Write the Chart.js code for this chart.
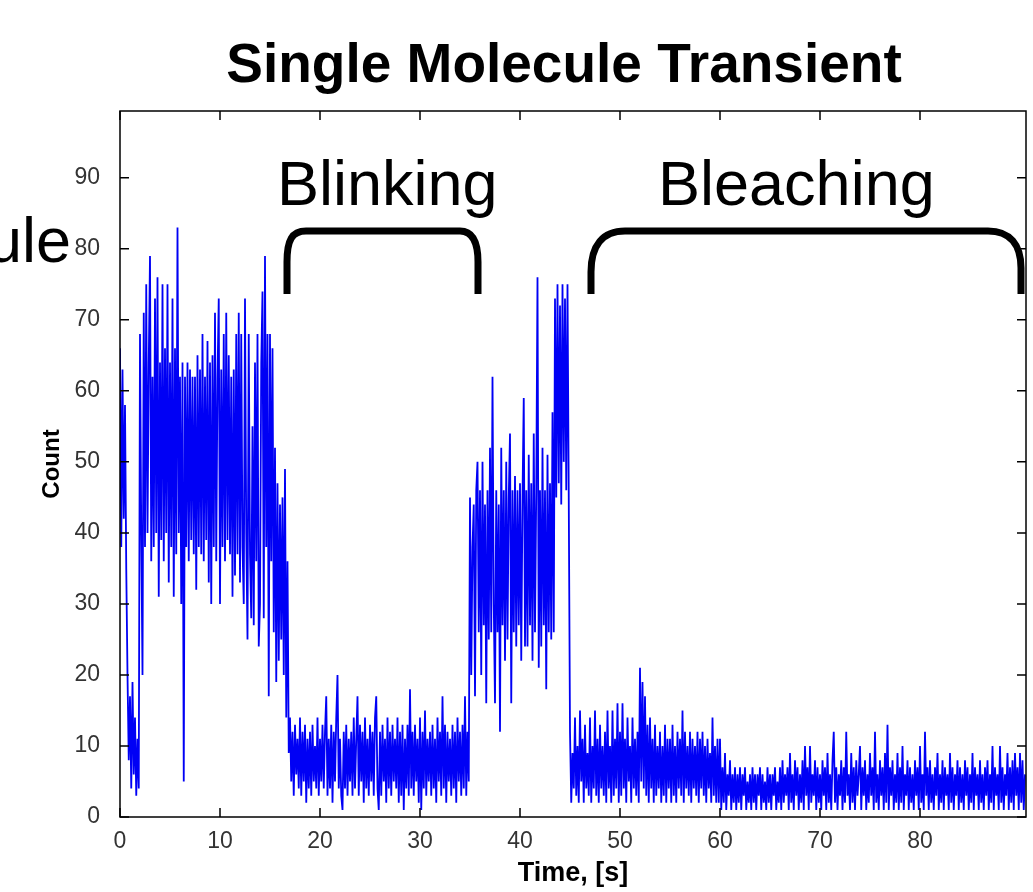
<!DOCTYPE html>
<html>
<head>
<meta charset="utf-8">
<script src="https://cdn.jsdelivr.net/npm/chart.js@4"></script>
<style>
  html, body { margin: 0; padding: 0; background: #fff; }
  #wrap { width: 1033px; height: 892px; position: relative; }
</style>
</head>
<body>
<div id="wrap"><canvas id="transientChart"></canvas></div>
<script>
// one sample every 0.125 s
const SAMPLE_STEP = 0.125;

// t = 0 .. 1.875
const startBurst = [66, 38, 63, 42, 58, 35, 20, 8, 17, 4, 19, 6, 14, 3, 11, 4];

// t = 2 .. 16.875  (bright state, then decay)
const brightState = [
  68, 40, 20, 71, 38, 75, 40, 64, 79, 36, 62, 38, 73, 40, 76, 31,
  64, 39, 75, 36, 66, 40, 75, 33, 64, 38, 73, 31, 66, 37, 83, 40,
  62, 30, 64, 5, 62, 38, 64, 36, 63, 39, 62, 37, 62, 32, 65, 38,
  63, 37, 68, 36, 62, 39, 67, 33, 64, 30, 65, 38, 71, 36, 62, 73,
  30, 63, 38, 68, 36, 71, 39, 65, 37, 62, 31, 63, 34, 68, 37, 71,
  33, 68, 38, 30, 73, 40, 25, 68, 37, 28, 55, 27, 64, 36, 68, 24,
  30, 64, 74, 28, 79, 38, 68, 17, 68, 36, 66, 26, 52, 19, 47, 22,
  44, 25, 45, 20, 49, 14, 36, 9
];

// t = 17 .. 34.875  (blinking, dark)
const blinkOff = [
  14, 5, 12, 3, 13, 6, 11, 4, 14, 3, 12, 5, 13, 2, 11, 4,
  12, 3, 13, 5, 10, 4, 14, 3, 11, 5, 13, 4, 12, 17, 3, 11,
  4, 13, 2, 12, 5, 14, 20, 4, 11, 3, 1, 12, 4, 13, 3, 11,
  5, 12, 3, 14, 4, 11, 17, 3, 13, 5, 12, 2, 14, 4, 11, 3,
  13, 5, 12, 3, 14, 17, 4, 1, 12, 3, 13, 5, 11, 2, 14, 4,
  12, 3, 13, 5, 11, 4, 14, 2, 12, 3, 13, 1, 11, 4, 13, 3,
  18, 4, 12, 3, 13, 5, 11, 2, 14, 1, 12, 4, 15, 3, 11, 5,
  12, 3, 13, 4, 11, 2, 14, 5, 12, 3, 17, 4, 13, 2, 12, 5,
  11, 3, 13, 4, 12, 2, 14, 5, 12, 3, 13, 4, 17, 3, 12, 5
];

// t = 35 .. 43.375  (back on)
const blinkOn = [
  45, 20, 38, 44, 17, 46, 50, 26, 46, 20, 50, 27, 44, 16, 46, 25,
  52, 26, 62, 30, 16, 46, 26, 44, 12, 52, 27, 46, 22, 50, 25, 45,
  54, 16, 46, 26, 48, 24, 46, 27, 47, 22, 45, 59, 24, 46, 24, 51,
  27, 47, 22, 54, 26, 46, 76, 21, 46, 24, 52, 27, 46, 18, 51, 26,
  47, 25, 57, 26
];

// t = 43.5 .. 44.875
const lastBurst = [73, 45, 75, 47, 72, 44, 75, 50, 73, 46, 75, 45];

// t = 45 .. 59.875  (bleached)
const bleachEarly = [
  12, 2, 9, 4, 14, 3, 10, 2, 15, 5, 11, 2, 13, 4, 9, 3,
  14, 2, 10, 4, 15, 3, 11, 2, 13, 4, 10, 3, 12, 2, 15, 4,
  10, 2, 15, 3, 11, 4, 16, 2, 12, 3, 16, 4, 11, 2, 14, 5,
  10, 2, 14, 4, 11, 3, 12, 2, 21, 5, 19, 4, 17, 3, 13, 2,
  14, 4, 11, 2, 13, 3, 10, 4, 12, 2, 10, 3, 13, 2, 11, 4,
  11, 2, 13, 3, 10, 2, 12, 4, 11, 3, 15, 2, 12, 4, 10, 3,
  12, 2, 11, 4, 10, 3, 12, 2, 11, 4, 12, 3, 10, 2, 11, 4,
  9, 2, 14, 3, 10, 2, 11, 2
];

// t = 60 .. 90.5  (background)
const bleachLate = [
  11, 1, 7, 2, 9, 1, 6, 3, 8, 1, 6, 2, 7, 1, 6, 2,
  7, 1, 6, 3, 7, 1, 5, 2, 6, 1, 7, 2, 6, 1, 6, 3,
  7, 1, 6, 2, 5, 1, 7, 2, 6, 1, 6, 3, 7, 1, 5, 2,
  7, 1, 8, 2, 6, 3, 7, 1, 9, 2, 6, 1, 8, 3, 7, 1,
  6, 2, 8, 1, 10, 3, 7, 1, 10, 2, 6, 3, 8, 1, 7, 2,
  6, 1, 8, 3, 7, 1, 9, 2, 6, 1, 8, 12, 2, 7, 1, 6,
  3, 8, 1, 7, 2, 12, 3, 6, 1, 9, 2, 7, 1, 8, 3, 6,
  10, 1, 7, 3, 8, 1, 6, 2, 9, 3, 7, 1, 12, 2, 6, 1,
  8, 3, 7, 1, 9, 2, 13, 1, 7, 3, 8, 1, 6, 2, 9, 1,
  7, 2, 10, 1, 6, 3, 8, 1, 7, 2, 6, 1, 8, 3, 7, 1,
  10, 2, 6, 1, 12, 3, 7, 1, 8, 2, 6, 1, 7, 3, 9, 1,
  6, 2, 8, 1, 7, 3, 6, 1, 9, 2, 7, 1, 6, 3, 8, 1,
  7, 2, 6, 1, 8, 3, 7, 1, 6, 2, 9, 1, 7, 3, 6, 1,
  8, 2, 6, 1, 7, 3, 8, 1, 6, 2, 10, 1, 7, 3, 6, 1,
  10, 2, 7, 1, 6, 3, 9, 1, 7, 2, 8, 1, 9, 3, 7, 1,
  9, 2, 8, 1, 6
];

const timeTicks = [0, 10, 20, 30, 40, 50, 60, 70, 80];
const countTicks = [0, 10, 20, 30, 40, 50, 60, 70, 80, 90];

const counts = [].concat(startBurst, brightState, blinkOff, blinkOn, lastBurst, bleachEarly, bleachLate);
const points = counts.map((c, i) => ({ x: i * SAMPLE_STEP, y: c }));

const FONT = '"Liberation Sans", Arial, Helvetica, sans-serif';

// box, inward ticks, title and the slide annotations
const overlay = {
  id: 'overlay',
  afterDraw(chart) {
    const { ctx, chartArea: a, scales } = chart;
    ctx.save();
    ctx.strokeStyle = '#000';
    ctx.lineWidth = 1.5;
    ctx.strokeRect(a.left, a.top, a.right - a.left, a.bottom - a.top);

    const tl = 9;
    ctx.beginPath();
    scales.x.ticks.forEach(t => {
      const px = scales.x.getPixelForValue(t.value);
      ctx.moveTo(px, a.bottom); ctx.lineTo(px, a.bottom - tl);
      ctx.moveTo(px, a.top); ctx.lineTo(px, a.top + tl);
    });
    scales.y.ticks.forEach(t => {
      const py = scales.y.getPixelForValue(t.value);
      ctx.moveTo(a.left, py); ctx.lineTo(a.left + tl, py);
      ctx.moveTo(a.right, py); ctx.lineTo(a.right - tl, py);
    });
    ctx.stroke();

    ctx.fillStyle = '#000';
    ctx.textBaseline = 'alphabetic';
    ctx.font = 'bold 55px ' + FONT;
    ctx.textAlign = 'center';
    ctx.fillText('Single Molecule Transient', 564, 82);

    ctx.font = '63px ' + FONT;
    ctx.textAlign = 'left';
    ctx.fillText('Blinking', 277, 205);
    ctx.fillText('Bleaching', 658, 205);
    ctx.textAlign = 'right';
    ctx.fillText('ule', 71, 262);

    ctx.lineWidth = 7;
    ctx.lineCap = 'butt';
    ctx.beginPath();
    ctx.moveTo(287, 294);
    ctx.lineTo(287, 262);
    ctx.bezierCurveTo(287, 240, 292, 231, 306, 231);
    ctx.lineTo(460, 231);
    ctx.bezierCurveTo(472, 231, 478, 242, 478, 262);
    ctx.lineTo(478, 294);
    ctx.stroke();

    ctx.beginPath();
    ctx.moveTo(591, 294);
    ctx.lineTo(591, 272);
    ctx.bezierCurveTo(591, 245, 603, 231, 625, 231);
    ctx.lineTo(988, 231);
    ctx.bezierCurveTo(1010, 231, 1021, 245, 1021, 268);
    ctx.lineTo(1021, 294);
    ctx.stroke();
    ctx.restore();
  }
};

new Chart(document.getElementById('transientChart'), {
  type: 'line',
  data: {
    datasets: [{
      label: 'Count',
      data: points,
      borderColor: 'rgb(0, 0, 245)',
      borderWidth: 1.8,
      pointRadius: 0,
      tension: 0,
      fill: false,
    }]
  },
  options: {
    responsive: true,
    maintainAspectRatio: false,
    animation: false,
    events: [],
    layout: { padding: { top: 111, right: 7, left: 0, bottom: 0 } },
    plugins: { legend: { display: false }, tooltip: { enabled: false } },
    scales: {
      x: {
        type: 'linear',
        min: 0,
        max: 90.6,
        afterBuildTicks: s => { s.ticks = timeTicks.map(v => ({ value: v })); },
        afterFit: s => { s.height = 75; },
        grid: { display: false },
        border: { display: false },
        ticks: { color: '#333', font: { family: FONT, size: 23 }, padding: 3, maxRotation: 0 },
        title: { display: true, text: 'Time, [s]', color: '#000', font: { family: FONT, size: 27, weight: 'bold' }, padding: { top: 0, bottom: 2 } }
      },
      y: {
        min: 0,
        max: 99.4,
        afterBuildTicks: s => { s.ticks = countTicks.map(v => ({ value: v })); },
        afterFit: s => { s.width = 120; },
        grid: { display: false },
        border: { display: false },
        ticks: { color: '#333', font: { family: FONT, size: 23 }, padding: 12 },
        title: { display: true, text: 'Count', color: '#000', font: { family: FONT, size: 24, weight: 'bold' }, padding: { top: 38, bottom: 0 } }
      }
    }
  },
  plugins: [overlay]
});
</script>
</body>
</html>
